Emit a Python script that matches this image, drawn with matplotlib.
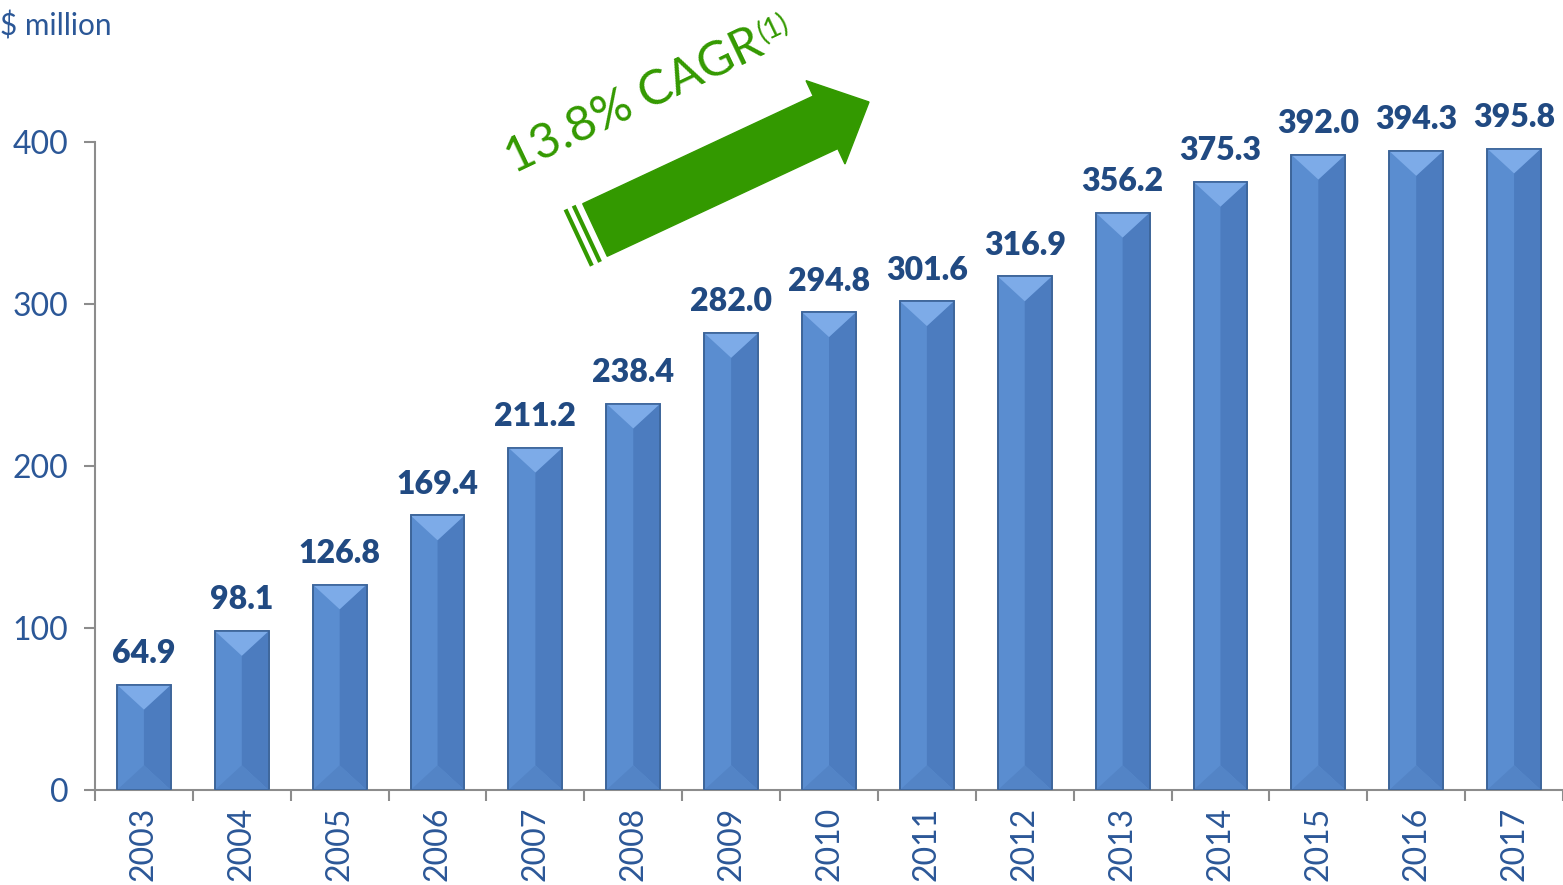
import matplotlib.pyplot as plt
import matplotlib.transforms as mtransforms
from matplotlib.patches import Polygon, FancyArrow
import numpy as np

years = ['2003', '2004', '2005', '2006', '2007', '2008', '2009', '2010',
         '2011', '2012', '2013', '2014', '2015', '2016', '2017']
revenue = [64.9, 98.1, 126.8, 169.4, 211.2, 238.4, 282.0, 294.8,
           301.6, 316.9, 356.2, 375.3, 392.0, 394.3, 395.8]
yticks = [0, 100, 200, 300, 400]
cagr_text = '13.8% CAGR'

plt.rcParams['font.family'] = ['Lato', 'DejaVu Sans']

text_blue = '#2B5797'
label_blue = '#214A82'
green = '#339900'

W, H = 1563, 885
fig = plt.figure(figsize=(W / 100, H / 100), dpi=100)
ax = fig.add_axes([95 / W, 95 / H, 1 - 95 / W, 760 / H])

ymax = 469
ax.set_xlim(-0.5, len(years) - 0.5)
ax.set_ylim(0, ymax)

x = np.arange(len(years))
bw = 0.55
ax.bar(x, revenue, width=bw, color='#5A8DD0', edgecolor='#3C6499',
       linewidth=1.2, zorder=2)

# bevel shading, depth chosen so the diagonals run at about 45 degrees
px_x = (W - 95) / len(years)
px_y = 760 / ymax
d = (bw / 2) * px_x / px_y * 0.92
for xi, v in zip(x, revenue):
    l, r = xi - bw / 2, xi + bw / 2
    ax.add_patch(Polygon([(xi, v - d), (r, v), (r, 0), (xi, d)],
                         closed=True, facecolor='#4C7CBF', edgecolor='none', zorder=3))
    ax.add_patch(Polygon([(l, 0), (r, 0), (xi, d)],
                         closed=True, facecolor='#5384C6', edgecolor='none', zorder=3))
    ax.add_patch(Polygon([(l, v), (r, v), (xi, v - d)],
                         closed=True, facecolor='#7DABE8', edgecolor='none', zorder=3))
    ax.add_patch(Polygon([(l, 0), (l, v), (r, v), (r, 0)], closed=True,
                         facecolor='none', edgecolor='#3C6499', linewidth=1.2, zorder=4))
    ax.annotate(f'{v:.1f}', (xi, v), xytext=(0, 12), textcoords='offset points',
                ha='center', va='bottom', fontsize=23, fontweight='heavy',
                color=label_blue)

for s in ['top', 'right']:
    ax.spines[s].set_visible(False)
for s in ['left', 'bottom']:
    ax.spines[s].set_color('#8C8C8C')
    ax.spines[s].set_linewidth(1.5)
ax.spines['left'].set_bounds(0, 400)

ax.set_yticks(yticks)
ax.tick_params(axis='y', length=8, width=1.5, color='#8C8C8C', pad=11,
               labelsize=23, labelcolor=text_blue)
ax.set_xticks(x)
ax.set_xticklabels(years, rotation=90)
ax.set_xticks(np.arange(len(years) + 1) - 0.5, minor=True)
ax.tick_params(axis='x', which='major', length=0, pad=12,
               labelsize=23, labelcolor=text_blue)
ax.tick_params(axis='x', which='minor', length=8, width=1.5, color='#8C8C8C')

fig.text(0.0, 1 - 26 / H, '$ million', fontsize=21.5, color=text_blue,
         ha='left', va='center')

# CAGR arrow, drawn in pixel coordinates
px = mtransforms.IdentityTransform()
tail = np.array([595.0, H - 230.0])
tip = np.array([869.0, H - 102.0])
vec = tip - tail
length = np.hypot(*vec)
u = vec / length
n = np.array([-u[1], u[0]])
fig.patches.append(FancyArrow(tail[0], tail[1], vec[0], vec[1], width=58,
                              head_width=92, head_length=48,
                              length_includes_head=True, color=green,
                              transform=px, figure=fig))
for off in [9, 18]:
    c = tail - u * off
    p1, p2 = c + n * 29, c - n * 29
    fig.lines.append(plt.Line2D([p1[0], p2[0]], [p1[1], p2[1]], color=green,
                                linewidth=3, transform=px, figure=fig))

ang = 25.5
x0, y0 = 514, H - 174
fs_main, fs_sup = 35, 20
fig.text(x0 / W, y0 / H, cagr_text, fontsize=fs_main, color=green,
         rotation=ang, rotation_mode='anchor', ha='left', va='baseline')
# superscript placed right after the main text along the rotated baseline
fig.canvas.draw()
tmp = fig.text(0, 0, cagr_text, fontsize=fs_main)
tw = tmp.get_window_extent(fig.canvas.get_renderer()).width
tmp.remove()
a = np.deg2rad(ang)
sx = x0 + (tw + 2) * np.cos(a) - 12 * np.sin(a)
sy = y0 + (tw + 2) * np.sin(a) + 12 * np.cos(a)
fig.text(sx / W, sy / H, '(1)', fontsize=fs_sup, color=green,
         rotation=ang, rotation_mode='anchor', ha='left', va='baseline')

fig.savefig('out.png', dpi=100)
